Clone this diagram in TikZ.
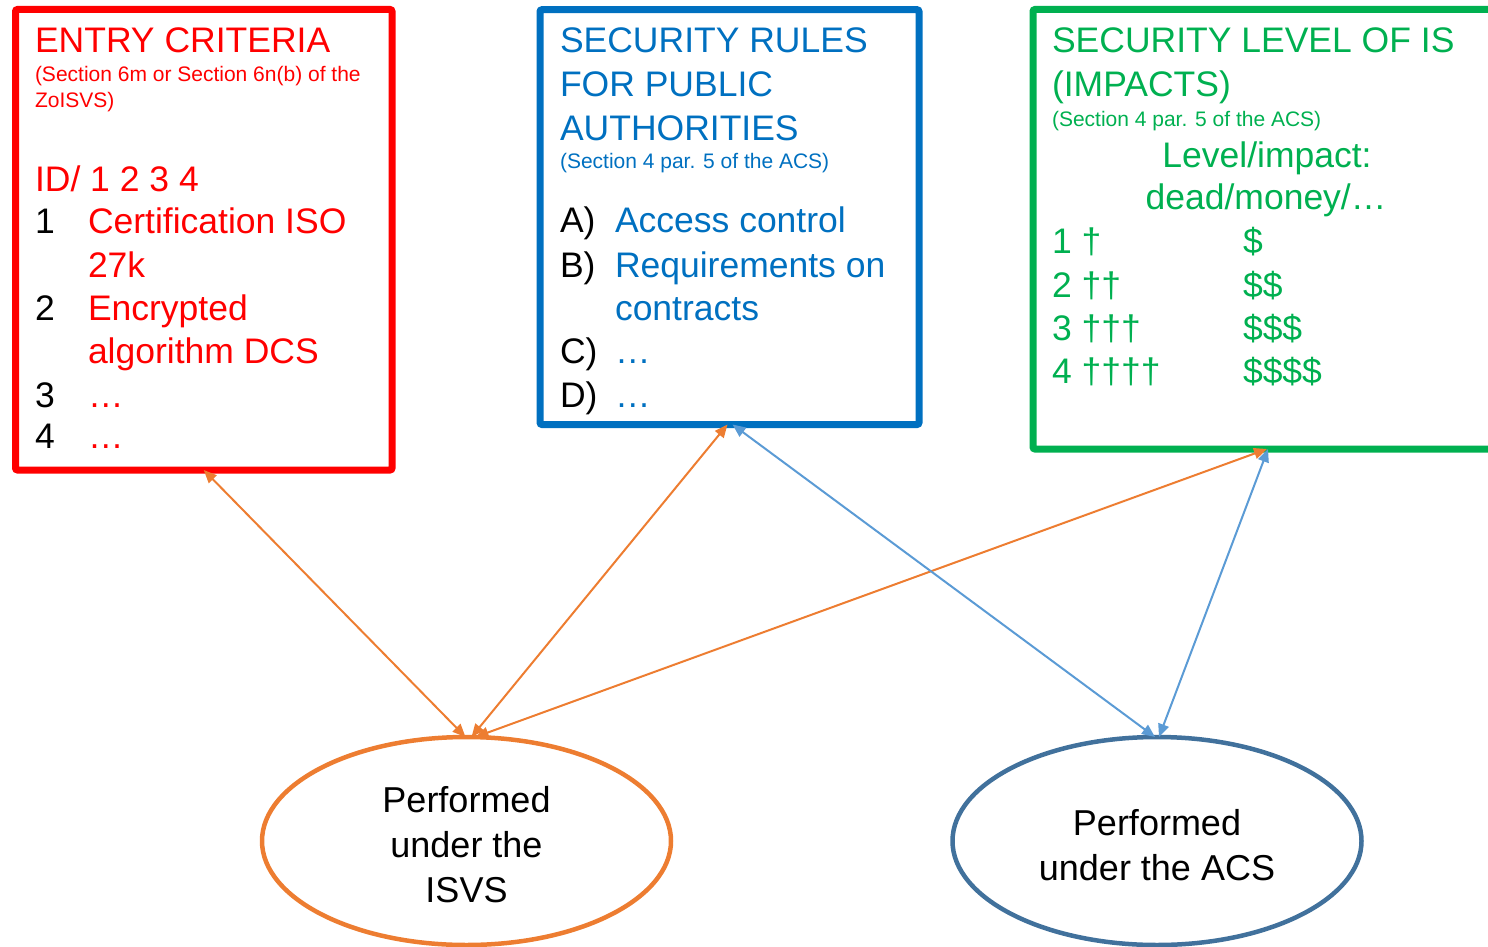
\documentclass[tikz,border=0pt]{standalone}
\usepackage{fontspec}
\setmainfont{Liberation Sans}
\usetikzlibrary{shapes.geometric,arrows.meta}
\definecolor{cred}{HTML}{FF0000}
\definecolor{cblue}{HTML}{0070C0}
\definecolor{cgreen}{HTML}{00B050}
\definecolor{corange}{HTML}{ED7D31}
\definecolor{clblue}{HTML}{5B9BD5}
\definecolor{cdblue}{HTML}{41719C}
\newcommand\fsz[1]{\fontsize{#1}{#1}\selectfont}
\begin{document}
\begin{tikzpicture}[x=1pt,y=-1pt,
  box/.style={draw,line width=7pt,rounded corners=2pt,outer sep=0pt,inner sep=0pt,rectangle},
  txt/.style={anchor=base west,inner sep=0pt,outer sep=0pt},
  big/.style={font=\fsz{35.5}},
  small/.style={font=\fsz{21}},
  ell/.style={ellipse,draw,line width=4.5pt,minimum width=409pt,minimum height=208pt,inner sep=0pt,outer sep=0pt},
  etxt/.style={align=center,inner sep=0pt,font=\fontsize{36}{45}\selectfont},
  conn/.style={line width=2pt,{Triangle[length=13pt,width=11pt]}-{Triangle[length=13pt,width=11pt]}}]
\useasboundingbox (0,0) rectangle (1488,947);
% boxes
\node[box,cred,minimum width=376.5pt,minimum height=460.5pt] (red) at (203.75,239.75) {};
\node[box,cblue,minimum width=379pt,minimum height=414.8pt] (blue) at (729.5,217.1) {};
\node[box,cgreen,minimum width=468pt,minimum height=439.5pt] (green) at (1267,229.25) {};
% red box text
\node[txt,cred,big] (r0) at (35,53) {ENTRY CRITERIA};
\node[txt,cred,small] (r1) at (35,82) {(Section 6m or Section 6n(b) of the};
\node[txt,cred,small] (r2) at (35,108) {ZoISVS)};
\node[txt,cred,big] (r3) at (35,191) {ID/ 1 2 3 4};
\node[txt,big] (r4n) at (35,233) {1};
\node[txt,cred,big] (r4) at (88,233) {Certification ISO};
\node[txt,cred,big] (r5) at (88,277) {27k};
\node[txt,big] (r6n) at (35,320) {2};
\node[txt,cred,big] (r6) at (88,320) {Encrypted};
\node[txt,cred,big] (r7) at (88,363) {algorithm DCS};
\node[txt,big] (r8n) at (35,407) {3};
\node[txt,cred,big] (r8) at (88,407) {…};
\node[txt,big] (r9n) at (35,448) {4};
\node[txt,cred,big] (r9) at (88,448) {…};
% blue box text
\node[txt,cblue,big] (b0) at (560,53) {SECURITY RULES};
\node[txt,cblue,big] (b1) at (560,97) {FOR PUBLIC};
\node[txt,cblue,big] (b2) at (560,140) {AUTHORITIES};
\node[txt,cblue,small] (b3) at (560,168) {(Section 4 par. 5 of the ACS)};
\node[txt,big] (b4n) at (560,232) {A)};
\node[txt,cblue,big] (b4) at (615,232) {Access control};
\node[txt,big] (b5n) at (560,277) {B)};
\node[txt,cblue,big] (b5) at (615,277) {Requirements on};
\node[txt,cblue,big] (b6) at (615,320) {contracts};
\node[txt,big] (b7n) at (560,363) {C)};
\node[txt,cblue,big] (b7) at (615,363) {…};
\node[txt,big] (b8n) at (560,407) {D)};
\node[txt,cblue,big] (b8) at (615,407) {…};
% green box text
\node[txt,cgreen,big] (g0) at (1052,53) {SECURITY LEVEL OF IS};
\node[txt,cgreen,big] (g1) at (1052,97) {(IMPACTS)};
\node[txt,cgreen,small] (g2) at (1052,127) {(Section 4 par. 5 of the ACS)};
\node[txt,cgreen,big,anchor=base] (g3) at (1267,167) {Level/impact:};
\node[txt,cgreen,big,anchor=base] (g4) at (1266,209) {dead/money/…};
\node[txt,cgreen,big] (g5) at (1052,253) {1 †};
\node[txt,cgreen,big] (g5d) at (1243,253) {\$};
\node[txt,cgreen,big] (g6) at (1052,297) {2 ††};
\node[txt,cgreen,big] (g6d) at (1243,297) {\$\$};
\node[txt,cgreen,big] (g7) at (1052,340) {3 †††};
\node[txt,cgreen,big] (g7d) at (1243,340) {\$\$\$};
\node[txt,cgreen,big] (g8) at (1052,383) {4 ††††};
\node[txt,cgreen,big] (g8d) at (1243,383) {\$\$\$\$};
% ellipses
\node[ell,corange] (oell) at (466.5,841) {};
\node[ell,cdblue] (bell) at (1157,841) {};
\node[etxt] (otxt) at ([yshift=-4pt]oell.center) {Performed\\under the\\ISVS};
\node[etxt] (btxt) at ([yshift=-4pt]bell.center) {Performed\\under the ACS};
% connectors
\draw[conn,corange] (red.south) -- ([xshift=-1pt]oell.north);
\draw[conn,corange] ([xshift=-2pt]blue.south) -- ([xshift=5pt]oell.north);
\draw[conn,corange] (green.south) -- ([xshift=9pt]oell.north);
\draw[conn,clblue] ([xshift=3pt]blue.south) -- ([xshift=-2pt]bell.north);
\draw[conn,clblue] ([xshift=1pt]green.south) -- ([xshift=2pt]bell.north);
\end{tikzpicture}
\end{document}
